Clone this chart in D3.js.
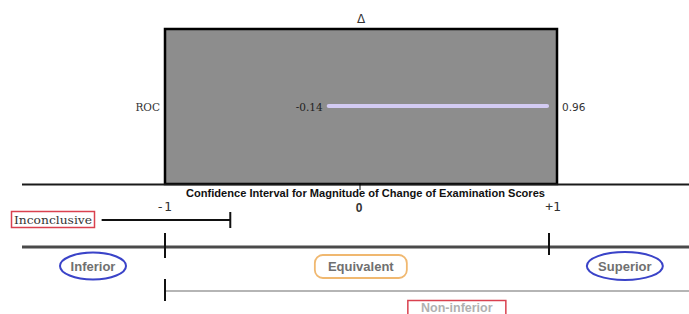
<!DOCTYPE html>
<html><head><meta charset="utf-8">
<script src="https://cdn.jsdelivr.net/npm/d3@7"></script>
<style>html,body{margin:0;padding:0;background:#fff;}svg{display:block;}</style>
</head><body>
<svg id="c" width="689" height="314"></svg>
<script>
// ---- data ----
const ciLabels = ["ROC"];
const ciLow = [-0.14];
const ciHigh = [0.96];
const axisTicks = [-1, 0, 1];
const axisTickLabels = ["-1", "0", "+1"];
const inconclusive = [-1.33, -0.66];
const regionNames = ["Inferior", "Equivalent", "Superior"];
const regionCenters = [-1.375, 0.02, 1.395];
const nonInferiorStart = -1;
const nonInferiorLabelAt = 0.52;
const title = "Confidence  Interval for Magnitude of Change of Examination Scores";
const topSymbol = "\u0394";

// ---- scales ----
const svg = d3.select("#c");
const x = d3.scaleLinear().domain([-1, 1]).range([165, 549]);     // bottom axes
const xTop = d3.scaleLinear().domain([-1, 1]).range([158, 555]);  // interval panel
const yTop = d3.scaleBand().domain(ciLabels).range([28, 184]);

// ---- top panel ----
svg.append("rect").attr("x", 165).attr("y", 29).attr("width", 392).attr("height", 155)
  .attr("fill", "#8d8d8d").attr("stroke", "#000").attr("stroke-width", 2.5);
svg.append("text").attr("x", 361).attr("y", 23).attr("text-anchor", "middle")
  .attr("font-family", "DejaVu Sans").attr("font-size", 12).attr("fill", "#333").text(topSymbol);

ciLabels.forEach((lab, i) => {
  const yy = yTop(lab) + yTop.bandwidth() / 2 + 1;
  svg.append("text").attr("x", 160).attr("y", yy + 4).attr("text-anchor", "end")
    .attr("font-family", "DejaVu Serif").attr("font-size", 10.5).attr("fill", "#333").text(lab);
  svg.append("line").attr("x1", xTop(ciLow[i])).attr("x2", xTop(ciHigh[i]))
    .attr("y1", yy - 1).attr("y2", yy - 1)
    .attr("stroke", "#d3cbf3").attr("stroke-width", 4).attr("stroke-linecap", "round");
  svg.append("text").attr("x", xTop(ciLow[i]) - 6).attr("y", yy + 4).attr("text-anchor", "end")
    .attr("font-family", "DejaVu Serif").attr("font-size", 10.5).attr("fill", "#222").text(ciLow[i].toFixed(2));
  svg.append("text").attr("x", 562).attr("y", yy + 4)
    .attr("font-family", "DejaVu Sans").attr("font-size", 10.5).attr("fill", "#333").text(ciHigh[i].toFixed(2));
});

// baseline
svg.append("line").attr("x1", 22).attr("x2", 689).attr("y1", 184.5).attr("y2", 184.5)
  .attr("stroke", "#1a1a1a").attr("stroke-width", 2);
svg.append("line").attr("x1", x(0) + 3).attr("x2", x(0) + 3).attr("y1", 183).attr("y2", 190)
  .attr("stroke", "#000").attr("stroke-width", 1);
svg.append("text").attr("x", 365.5).attr("y", 196.5).attr("text-anchor", "middle")
  .attr("font-family", "Liberation Sans").attr("font-weight", "bold").attr("font-size", 10)
  .attr("textLength", 359).attr("lengthAdjust", "spacingAndGlyphs")
  .attr("fill", "#111").text(title);

// tick labels
axisTicks.forEach((t, i) => {
  const isZero = t === 0;
  svg.append("text").attr("x", x(t) + (isZero ? 2 : (t > 0 ? 4 : -1))).attr("y", isZero ? 212 : 211)
    .attr("text-anchor", "middle")
    .attr("font-family", isZero ? "Liberation Sans" : "DejaVu Sans Mono")
    .attr("font-weight", isZero ? "bold" : "normal")
    .attr("font-size", isZero ? 12 : 13).attr("fill", "#333").text(axisTickLabels[i]);
});

// inconclusive
svg.append("rect").attr("x", 11.5).attr("y", 211.5).attr("width", 83).attr("height", 16)
  .attr("fill", "#fff").attr("stroke", "#d9414f").attr("stroke-width", 1.5);
svg.append("text").attr("x", 53).attr("y", 224).attr("text-anchor", "middle")
  .attr("font-family", "DejaVu Serif").attr("font-size", 11.5).attr("fill", "#333")
  .attr("textLength", 78).attr("lengthAdjust", "spacingAndGlyphs").text("Inconclusive");
svg.append("line").attr("x1", x(inconclusive[0])).attr("x2", x(inconclusive[1]))
  .attr("y1", 220).attr("y2", 220).attr("stroke", "#111").attr("stroke-width", 2);
svg.append("line").attr("x1", x(inconclusive[1])).attr("x2", x(inconclusive[1]))
  .attr("y1", 212).attr("y2", 228).attr("stroke", "#111").attr("stroke-width", 2);

// second axis
svg.append("line").attr("x1", 22).attr("x2", 689).attr("y1", 247).attr("y2", 247)
  .attr("stroke", "#4a4a4a").attr("stroke-width", 3);
[-1, 1].forEach(t => {
  svg.append("line").attr("x1", x(t)).attr("x2", x(t)).attr("y1", 233).attr("y2", t < 0 ? 258 : 255)
    .attr("stroke", "#111").attr("stroke-width", 2);
});

// regions
const rad = [[33, 13.5], null, [38, 14]];
regionNames.forEach((name, i) => {
  const cx = x(regionCenters[i]);
  if (rad[i]) {
    svg.append("ellipse").attr("cx", cx).attr("cy", 266).attr("rx", rad[i][0]).attr("ry", rad[i][1])
      .attr("fill", "#fff").attr("stroke", "#3a43c8").attr("stroke-width", 2);
  } else {
    svg.append("rect").attr("x", cx - 46).attr("y", 255).attr("width", 92).attr("height", 23)
      .attr("rx", 8).attr("fill", "#fff").attr("stroke", "#f0b870").attr("stroke-width", 1.8);
  }
  svg.append("text").attr("x", cx).attr("y", 270.5).attr("text-anchor", "middle")
    .attr("font-family", "Liberation Sans").attr("font-weight", "bold").attr("font-size", 13)
    .attr("fill", "#707070").text(name);
});

// non-inferior
svg.append("line").attr("x1", x(nonInferiorStart)).attr("x2", 689).attr("y1", 291).attr("y2", 291)
  .attr("stroke", "#b5b5b5").attr("stroke-width", 2);
svg.append("line").attr("x1", x(nonInferiorStart)).attr("x2", x(nonInferiorStart)).attr("y1", 279).attr("y2", 301)
  .attr("stroke", "#111").attr("stroke-width", 2);
const nx = x(nonInferiorLabelAt);
svg.append("rect").attr("x", nx - 49).attr("y", 300.5).attr("width", 98).attr("height", 18)
  .attr("fill", "#fff").attr("stroke", "#d9414f").attr("stroke-width", 1.5);
svg.append("text").attr("x", nx).attr("y", 312).attr("text-anchor", "middle")
  .attr("font-family", "Liberation Sans").attr("font-weight", "bold").attr("font-size", 12.5)
  .attr("fill", "#b0b0b0").text("Non-inferior");
</script>
</body></html>
